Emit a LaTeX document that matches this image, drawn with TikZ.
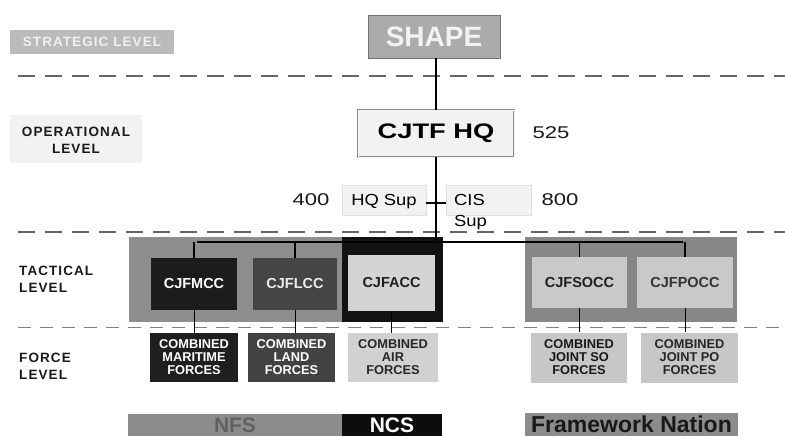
\documentclass[tikz,border=0pt]{standalone}
\usepackage{fontspec}
\setmainfont{Liberation Sans}
\newfontfamily\widef{Liberation Sans}[FakeStretch=1.3]
\newfontfamily\midf{Liberation Sans}[FakeStretch=1.15]
\newfontfamily\lvlf{Liberation Sans}[LetterSpace=8]
\definecolor{panelgray}{HTML}{8E8E8E}
\definecolor{darkbox}{HTML}{1C1C1C}
\definecolor{midbox}{HTML}{454545}
\definecolor{lightbox}{HTML}{D4D4D4}
\definecolor{lvltext}{HTML}{1A1A1A}
\tikzset{
  box/.style={rectangle, inner sep=0pt, draw=none, align=center},
  lvl/.style={inner sep=0pt, align=left, text=lvltext, font=\lvlf\bfseries\fontsize{13.5}{17}\selectfont},
  levelline/.style={draw=black!60, line width=1.2pt, dash pattern=on 17pt off 10pt},
  conn/.style={draw=black, line width=1.8pt},
  bus/.style={draw=black, line width=1.5pt},
  tact/.style={box, font=\bfseries\fontsize{14.5}{16}\selectfont},
  force/.style={box, font=\bfseries\fontsize{12.8}{13}\selectfont},
  num/.style={inner sep=0pt, font=\widef\fontsize{17}{20}\selectfont, text=black!90},
}
\begin{document}
\begin{tikzpicture}[x=1pt,y=-1pt]
\useasboundingbox (0,0) rectangle (785,436);
\fill[white] (0,0) rectangle (785,436);

% level separators
\coordinate (d1a) at (18,76);  \coordinate (d1b) at (785,76);
\coordinate (d2a) at (18,232); \coordinate (d2b) at (785,232);
\coordinate (d3a) at (18,327); \coordinate (d3b) at (785,327);
\draw[levelline] (d1a) -- (d1b);
\draw[levelline] (d2a) -- (d2b);
\draw[levelline, draw=black!50, line width=1pt, dash pattern=on 13pt off 9pt] (d3a) -- (d3b);

% level labels
\node[box, fill=black!27, minimum width=164pt, minimum height=24pt, text=black!6,
      font=\lvlf\bfseries\fontsize{13.5}{16}\selectfont] (strat) at (92,42) {STRATEGIC LEVEL};
\node[box, fill=black!5, minimum width=132pt, minimum height=48pt] (opbg) at (76,139) {};
\node[lvl, align=center] (op) at (76,140) {OPERATIONAL\\LEVEL};
\node[lvl, anchor=west] (tac) at (19,279.5) {TACTICAL\\LEVEL};
\node[lvl, anchor=west] (frc) at (19,366) {FORCE\\LEVEL};

% SHAPE and CJTF HQ
\node[box, fill=black!33, draw=black!55, line width=0.8pt, minimum width=132pt, minimum height=43pt,
      text=black!5, font=\bfseries\fontsize{28}{30}\selectfont] (shape) at (434,36.5) {SHAPE};
\node[box, fill=black!5, draw=black!45, double=black!5, double distance=1pt, line width=0.7pt,
      minimum width=156pt, minimum height=47pt, font=\widef\bfseries\fontsize{21}{24}\selectfont] (hq) at (436,133.5) {CJTF HQ};
\node[num] (n525) at (551,133) {525};

% support
\node[box, fill=black!5, draw=black!12, line width=0.6pt, minimum width=84pt, minimum height=30pt,
      text height=11.5pt, text depth=0pt,
      font=\midf\fontsize{16}{19}\selectfont] (hqsup) at (384,200) {HQ Sup};
\node[box, fill=black!5, draw=black!12, line width=0.6pt, minimum width=85pt, minimum height=30pt] (cissup) at (488.5,200) {};
\node[inner sep=0pt, anchor=north west, align=left, font=\midf\fontsize{16}{21}\selectfont] (cistext) at (454,194) {CIS\\Sup};
\node[num] (n400) at (311,200) {400};
\node[num] (n800) at (560,200) {800};

% tactical panels
\node[box, fill=panelgray, minimum width=213pt, minimum height=85pt] (lpanel) at (235.5,279.5) {};
\node[box, fill=black!93, minimum width=101pt, minimum height=85pt] (accframe) at (392.5,279.5) {};
\node[box, fill=panelgray!95!black, minimum width=212pt, minimum height=85pt] (rpanel) at (631,279.5) {};

% bus
\coordinate (busL) at (197,242);
\coordinate (busR) at (683,242);

\node[tact, fill=darkbox, text=white, minimum width=86pt, minimum height=52pt] (mcc) at (194,284) {CJFMCC};
\node[tact, fill=midbox, text=black!8, minimum width=84pt, minimum height=52pt] (lcc) at (295,284) {CJFLCC};
\node[tact, fill=lightbox, text=black!88, minimum width=87pt, minimum height=56pt] (acc) at (391.5,283) {CJFACC};
\node[tact, fill=lightbox!95!black, text=black!88, minimum width=95pt, minimum height=51pt] (socc) at (579.5,282.5) {CJFSOCC};
\node[tact, fill=lightbox!95!black, text=black!80, minimum width=96pt, minimum height=51pt] (pocc) at (685,282.5) {CJFPOCC};

% force boxes
\node[force, fill=black!88, text=white, minimum width=88pt, minimum height=49pt] (mar) at (194,357.5) {COMBINED\\MARITIME\\FORCES};
\node[force, fill=black!74, text=white, minimum width=87pt, minimum height=49pt] (land) at (291.5,357.5) {COMBINED\\LAND\\FORCES};
\node[force, fill=black!18, text=black!85, minimum width=90pt, minimum height=49pt] (air) at (393,357.5) {COMBINED\\AIR\\FORCES};
\node[force, fill=black!22, text=black!90, minimum width=96pt, minimum height=50pt] (so) at (579,357.5) {COMBINED\\JOINT SO\\FORCES};
\node[force, fill=black!22, text=black!85, minimum width=97pt, minimum height=50pt] (po) at (689.5,357.5) {COMBINED\\JOINT PO\\FORCES};

% bottom bars
\node[box, fill=black!45, minimum width=214pt, minimum height=23pt, text=black!62,
      font=\bfseries\fontsize{21}{23}\selectfont] (nfs) at (235,425.5) {NFS};
\node[box, fill=black!95, minimum width=100pt, minimum height=23pt, text=white,
      font=\bfseries\fontsize{21}{23}\selectfont] (ncs) at (392,425.5) {NCS};
\node[box, fill=black!45, minimum width=213pt, minimum height=23pt, text=black!90,
      font=\bfseries\fontsize{23}{25}\selectfont] (fn) at (631.5,424.5) {Framework Nation};

% connectors
\draw[conn] (hq.north) -- (hq.north |- shape.south);
\draw[conn] (hq.south) -- (hq.south |- busL);
\draw[bus] ([yshift=-3pt]hqsup.east) -- ([yshift=-3pt]hqsup.east -| cissup.west);
\draw[bus] (busL) -- (busR);
\draw[bus] (mcc.north |- busL) -- (mcc.north);
\draw[bus] (lcc.north |- busL) -- (lcc.north);
\draw[bus] (socc.north |- busL) -- (socc.north);
\draw[bus] (pocc.north |- busL) -- (pocc.north);
\draw[line width=1pt] (mcc.south) -- (mcc.south |- mar.north);
\draw[line width=1pt] (lcc.south) -- (lcc.south |- land.north);
\draw[line width=1pt] (acc.south) -- (acc.south |- air.north);
\draw[line width=1pt] (socc.south) -- (socc.south |- so.north);
\draw[line width=1pt] (pocc.south) -- (pocc.south |- po.north);
\end{tikzpicture}
\end{document}
